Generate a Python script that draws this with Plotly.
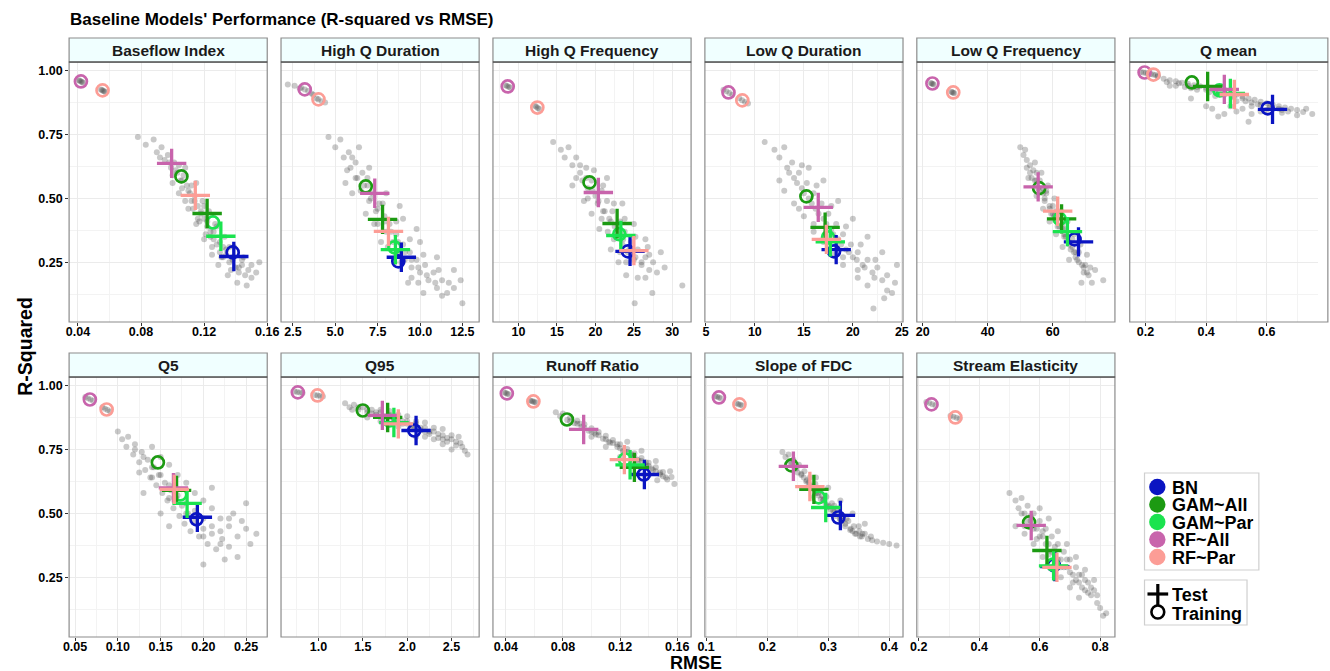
import plotly.graph_objects as go

W, H = 1330, 671

PANELS = ["Baseflow Index", "High Q Duration", "High Q Frequency", "Low Q Duration",
          "Low Q Frequency", "Q mean", "Q5", "Q95", "Runoff Ratio", "Slope of FDC",
          "Stream Elasticity"]

MODELS = ["BN", "GAM~All", "GAM~Par", "RF~All", "RF~Par"]
MODEL_COLORS = ["#0A14C2", "#1C9A12", "#1BE34F", "#C864AC", "#FC9D96"]

# values per model, across the 11 panels (RMSE, R-squared)
BN_TRAIN_RMSE = [0.1381, 8.72, 24.23, 18.08, 66.7, 0.603, 0.192, 2.08, 0.1366, 0.3167, 0.647]
BN_TRAIN_R2 = [0.289, 0.254, 0.293, 0.293, 0.34, 0.852, 0.477, 0.824, 0.652, 0.484, 0.297]
BN_TEST_RMSE = [0.1388, 8.90, 24.5, 18.3, 67.9, 0.619, 0.193, 2.10, 0.1370, 0.320, 0.650]
BN_TEST_R2 = [0.273, 0.270, 0.293, 0.300, 0.33, 0.848, 0.485, 0.824, 0.652, 0.492, 0.292]

GAM_ALL_TRAIN_RMSE = [0.1056, 6.80, 19.23, 15.26, 55.8, 0.353, 0.1468, 1.50, 0.0828, 0.2397, 0.565]
GAM_ALL_TRAIN_R2 = [0.586, 0.547, 0.5625, 0.508, 0.54, 0.953, 0.699, 0.902, 0.867, 0.6875, 0.465]
GAM_ALL_TEST_RMSE = [0.1219, 7.79, 22.82, 17.17, 62.7, 0.405, 0.1687, 1.78, 0.130, 0.2766, 0.624]
GAM_ALL_TEST_R2 = [0.441, 0.418, 0.402, 0.387, 0.42, 0.9375, 0.59, 0.875, 0.68, 0.594, 0.355]

GAM_PAR_TRAIN_RMSE = [0.1256, 8.49, 23.1, 17.47, 62.1, 0.444, 0.173, 1.80, 0.1234, 0.2846, 0.644]
GAM_PAR_TRAIN_R2 = [0.406, 0.309, 0.36, 0.348, 0.42, 0.922, 0.574, 0.863, 0.711, 0.5625, 0.30]
GAM_PAR_TEST_RMSE = [0.1306, 8.55, 23.3, 17.7, 64.5, 0.48, 0.181, 1.85, 0.127, 0.296, 0.646]
GAM_PAR_TEST_R2 = [0.352, 0.30, 0.355, 0.33, 0.37, 0.91, 0.539, 0.855, 0.69, 0.523, 0.295]

RF_ALL_TRAIN_RMSE = [0.0419, 3.20, 8.59, 7.31, 23.0, 0.197, 0.0673, 0.767, 0.0407, 0.121, 0.242]
RF_ALL_TRAIN_R2 = [0.957, 0.926, 0.9375, 0.914, 0.949, 0.992, 0.945, 0.973, 0.969, 0.953, 0.926]
RF_ALL_TEST_RMSE = [0.0994, 7.33, 20.38, 16.47, 55.5, 0.46, 0.165, 1.72, 0.0945, 0.243, 0.572]
RF_ALL_TEST_R2 = [0.637, 0.52, 0.523, 0.465, 0.545, 0.926, 0.60, 0.883, 0.828, 0.684, 0.453]

RF_PAR_TRAIN_RMSE = [0.0556, 4.01, 12.44, 8.72, 29.4, 0.226, 0.0869, 0.989, 0.0593, 0.1546, 0.321]
RF_PAR_TRAIN_R2 = [0.922, 0.887, 0.855, 0.883, 0.914, 0.984, 0.906, 0.961, 0.9375, 0.926, 0.875]
RF_PAR_TEST_RMSE = [0.1144, 8.14, 25.0, 17.3, 61.5, 0.493, 0.166, 1.90, 0.123, 0.270, 0.657]
RF_PAR_TEST_R2 = [0.512, 0.371, 0.296, 0.34, 0.45, 0.906, 0.594, 0.85, 0.71, 0.605, 0.289]

# bootstrap clouds (RMSE, R-squared)
CLOUD_BASEFLOW = [
    (0.078, 0.74), (0.083, 0.71), (0.088, 0.73), (0.090, 0.68), (0.093, 0.70), (0.095, 0.65),
    (0.097, 0.67), (0.099, 0.62), (0.101, 0.64), (0.100, 0.59), (0.103, 0.60), (0.105, 0.57),
    (0.107, 0.59), (0.106, 0.54), (0.109, 0.55), (0.111, 0.52), (0.112, 0.49), (0.114, 0.51),
    (0.113, 0.46), (0.116, 0.47), (0.118, 0.44), (0.117, 0.41), (0.120, 0.42), (0.122, 0.39),
    (0.121, 0.36), (0.124, 0.37), (0.126, 0.34), (0.125, 0.31), (0.128, 0.32), (0.130, 0.29),
    (0.132, 0.31), (0.131, 0.27), (0.134, 0.28), (0.136, 0.25), (0.138, 0.27), (0.137, 0.22),
    (0.140, 0.23), (0.142, 0.21), (0.144, 0.24), (0.146, 0.20), (0.148, 0.22), (0.150, 0.19),
    (0.153, 0.21), (0.155, 0.25), (0.141, 0.17), (0.147, 0.16), (0.108, 0.62), (0.115, 0.56),
    (0.119, 0.49), (0.123, 0.45), (0.127, 0.40), (0.133, 0.35), (0.139, 0.31), (0.145, 0.27),
    (0.104, 0.52), (0.110, 0.46), (0.115, 0.40), (0.120, 0.34), (0.125, 0.28), (0.129, 0.24),
    (0.135, 0.20), (0.098, 0.64), (0.102, 0.61), (0.106, 0.57), (0.110, 0.53), (0.114, 0.49),
    (0.118, 0.45), (0.122, 0.41), (0.126, 0.37), (0.130, 0.33), (0.134, 0.30), (0.138, 0.26),
    (0.142, 0.23), (0.104, 0.63), (0.112, 0.55), (0.120, 0.47), (0.128, 0.39), (0.136, 0.31),
    (0.144, 0.26), (0.100, 0.56), (0.108, 0.49), (0.116, 0.42), (0.124, 0.35), (0.132, 0.27),
    (0.150, 0.24), (0.092, 0.66),
    (0.0405, 0.962), (0.0412, 0.960), (0.0419, 0.957), (0.0426, 0.955),
    (0.0433, 0.952), (0.0545, 0.926), (0.0552, 0.924), (0.0559, 0.921), (0.0566, 0.919),
    (0.0573, 0.916)]

CLOUD_HIGHQDUR = [
    (4.6, 0.74), (5.0, 0.70), (5.3, 0.73), (5.5, 0.66), (5.8, 0.68), (5.9, 0.62), (6.2, 0.64),
    (6.3, 0.58), (6.6, 0.60), (6.5, 0.53), (6.9, 0.55), (7.0, 0.49), (7.2, 0.52), (7.4, 0.45),
    (7.6, 0.48), (7.5, 0.40), (7.9, 0.43), (8.0, 0.37), (8.2, 0.40), (8.4, 0.33), (8.6, 0.36),
    (8.7, 0.29), (9.0, 0.32), (9.1, 0.26), (9.4, 0.29), (9.5, 0.23), (9.8, 0.26), (10.0, 0.21),
    (10.3, 0.24), (10.5, 0.18), (10.8, 0.21), (11.0, 0.15), (11.3, 0.18), (11.6, 0.13),
    (12.0, 0.15), (12.5, 0.09), (10.2, 0.13), (11.3, 0.12), (9.3, 0.17), (6.0, 0.52),
    (6.8, 0.44), (7.7, 0.33), (8.5, 0.25), (9.5, 0.19), (7.0, 0.62), (8.0, 0.52), (9.0, 0.42),
    (10.0, 0.33), (11.0, 0.27), (12.0, 0.22), (12.4, 0.18), (8.8, 0.47), (9.8, 0.38),
    (6.4, 0.70), (5.6, 0.56), (6.2, 0.58), (6.7, 0.55), (7.1, 0.50), (7.5, 0.46), (7.9, 0.41),
    (8.3, 0.37), (8.7, 0.33), (9.1, 0.29), (9.5, 0.26), (9.9, 0.23), (10.4, 0.20), (10.9, 0.17),
    (6.0, 0.66), (6.9, 0.58), (7.8, 0.48), (8.6, 0.41), (9.4, 0.34), (10.2, 0.28), (11.1, 0.22),
    (5.7, 0.61), (7.3, 0.40), (8.1, 0.31), (8.9, 0.25), (9.9, 0.17), (11.7, 0.17),
    (2.2, 0.945), (2.6, 0.94), (3.0, 0.932), (3.2, 0.926),
    (3.4, 0.92), (3.7, 0.905), (3.9, 0.89), (4.0, 0.887), (4.2, 0.88), (4.4, 0.875),
    (2.9, 0.93), (3.6, 0.91)]

CLOUD_HIGHQFREQ = [
    (14.5, 0.72), (15.5, 0.69), (16.0, 0.66), (16.5, 0.70), (17.0, 0.63), (17.5, 0.66),
    (18.0, 0.60), (18.3, 0.57), (18.8, 0.62), (19.0, 0.54), (19.5, 0.57), (20.0, 0.51),
    (20.3, 0.48), (20.8, 0.53), (21.0, 0.45), (21.5, 0.49), (21.8, 0.42), (22.2, 0.45),
    (22.5, 0.39), (22.8, 0.35), (23.2, 0.41), (23.5, 0.32), (23.8, 0.37), (24.2, 0.29),
    (24.6, 0.33), (25.0, 0.26), (25.5, 0.30), (26.0, 0.24), (26.5, 0.27), (27.0, 0.22),
    (27.5, 0.25), (28.0, 0.21), (29.0, 0.23), (31.3, 0.16), (27.4, 0.13), (25.1, 0.09),
    (24.0, 0.20), (25.5, 0.19), (26.5, 0.19), (22.0, 0.30), (23.0, 0.25), (20.5, 0.38),
    (19.5, 0.44), (18.5, 0.49), (21.5, 0.58), (23.5, 0.48), (25.0, 0.40), (26.5, 0.34),
    (28.5, 0.29), (17.0, 0.55), (18.0, 0.63), (18.8, 0.58), (19.6, 0.53), (20.4, 0.49),
    (21.2, 0.45), (22.0, 0.41), (22.8, 0.37), (23.6, 0.34), (24.4, 0.30), (25.2, 0.27),
    (26.0, 0.25), (27.0, 0.28), (19.8, 0.61), (21.0, 0.55), (22.4, 0.48), (23.8, 0.42),
    (25.2, 0.35), (26.8, 0.31), (17.5, 0.58), (19.0, 0.50), (20.8, 0.42), (22.4, 0.34),
    (24.0, 0.25), (23.2, 0.29), (21.6, 0.37),
    (8.3, 0.942), (8.5, 0.939), (8.7, 0.936), (8.9, 0.933),
    (12.1, 0.862), (12.3, 0.858), (12.5, 0.853), (12.7, 0.849)]

CLOUD_LOWQDUR = [
    (11.0, 0.72), (12.0, 0.69), (12.5, 0.66), (13.0, 0.70), (13.3, 0.62), (13.8, 0.64),
    (14.0, 0.58), (14.5, 0.60), (14.8, 0.54), (15.3, 0.56), (15.5, 0.50), (16.0, 0.52),
    (16.2, 0.46), (16.8, 0.48), (17.0, 0.42), (17.5, 0.44), (17.8, 0.38), (18.3, 0.40),
    (18.5, 0.34), (19.0, 0.36), (19.3, 0.30), (19.8, 0.32), (20.0, 0.27), (20.5, 0.29),
    (21.0, 0.24), (21.5, 0.26), (22.0, 0.21), (22.5, 0.23), (23.0, 0.18), (23.5, 0.20),
    (24.3, 0.17), (22.1, 0.07), (23.2, 0.11), (24.0, 0.13), (20.5, 0.19), (21.5, 0.16),
    (19.0, 0.24), (18.0, 0.28), (17.0, 0.33), (16.0, 0.37), (15.0, 0.43), (14.0, 0.48),
    (13.0, 0.53), (15.5, 0.62), (17.0, 0.57), (18.5, 0.49), (20.0, 0.42), (21.5, 0.35),
    (23.0, 0.29), (24.5, 0.24), (13.5, 0.60), (14.3, 0.56), (15.0, 0.52), (15.8, 0.48),
    (16.5, 0.44), (17.3, 0.40), (18.0, 0.36), (18.8, 0.32), (19.6, 0.29), (20.4, 0.26),
    (21.2, 0.23), (22.2, 0.19), (14.8, 0.63), (16.3, 0.55), (17.8, 0.47), (19.3, 0.39),
    (20.8, 0.32), (22.3, 0.26), (12.5, 0.57), (14.5, 0.46), (16.0, 0.40), (17.5, 0.33),
    (19.0, 0.27), (20.5, 0.22), (23.5, 0.14),
    (6.8, 0.925), (7.1, 0.919), (7.4, 0.912), (7.7, 0.905),
    (8.4, 0.891), (8.7, 0.884), (9.0, 0.877), (9.3, 0.871)]

CLOUD_LOWQFREQ = [
    (50.0, 0.70), (51.0, 0.67), (52.0, 0.65), (53.0, 0.63), (53.5, 0.58), (54.0, 0.61),
    (55.0, 0.57), (55.5, 0.54), (56.0, 0.57), (57.0, 0.52), (57.5, 0.49), (58.0, 0.52),
    (59.0, 0.47), (59.5, 0.44), (60.0, 0.47), (61.0, 0.42), (61.5, 0.39), (62.0, 0.43),
    (63.0, 0.38), (63.5, 0.35), (64.0, 0.38), (65.0, 0.33), (65.5, 0.30), (66.0, 0.34),
    (67.0, 0.29), (67.5, 0.26), (68.0, 0.29), (69.0, 0.24), (69.5, 0.21), (70.0, 0.24),
    (71.0, 0.20), (72.0, 0.17), (68.8, 0.17), (75.5, 0.18), (73.0, 0.22), (54.5, 0.64),
    (56.5, 0.60), (58.5, 0.55), (60.5, 0.50), (62.5, 0.45), (64.5, 0.41), (66.5, 0.36),
    (68.5, 0.32), (70.5, 0.28), (52.5, 0.58), (55.0, 0.51), (57.0, 0.46), (59.0, 0.41),
    (61.0, 0.36), (63.0, 0.31), (65.0, 0.26), (53.0, 0.60), (54.5, 0.57), (56.0, 0.53),
    (57.5, 0.50), (59.0, 0.46), (60.5, 0.43), (62.0, 0.39), (63.5, 0.36), (65.0, 0.32),
    (66.5, 0.29), (68.0, 0.25), (69.5, 0.23), (55.0, 0.60), (58.0, 0.53), (61.0, 0.45),
    (64.0, 0.35), (67.0, 0.27), (52.0, 0.62), (57.0, 0.54), (60.0, 0.44), (63.0, 0.40),
    (66.0, 0.31), (70.5, 0.21), (71.5, 0.23), (51.5, 0.69),
    (22.5, 0.951), (22.8, 0.949), (23.1, 0.947),
    (23.4, 0.945), (28.8, 0.917), (29.1, 0.915), (29.4, 0.913), (29.7, 0.911)]

CLOUD_QMEAN = [
    (0.24, 0.975), (0.26, 0.968), (0.28, 0.962), (0.30, 0.958), (0.30, 0.94), (0.32, 0.952),
    (0.33, 0.935), (0.34, 0.948), (0.36, 0.942), (0.37, 0.925), (0.38, 0.938), (0.40, 0.932),
    (0.41, 0.915), (0.42, 0.928), (0.44, 0.92), (0.45, 0.905), (0.46, 0.915), (0.48, 0.91),
    (0.49, 0.895), (0.50, 0.905), (0.52, 0.898), (0.53, 0.88), (0.54, 0.89), (0.56, 0.885),
    (0.57, 0.868), (0.58, 0.878), (0.60, 0.872), (0.61, 0.855), (0.62, 0.865), (0.64, 0.86),
    (0.65, 0.845), (0.66, 0.855), (0.68, 0.85), (0.70, 0.845), (0.72, 0.838), (0.75, 0.83),
    (0.70, 0.825), (0.46, 0.83), (0.44, 0.82), (0.50, 0.84), (0.40, 0.86), (0.35, 0.89),
    (0.55, 0.83), (0.42, 0.85), (0.28, 0.94), (0.54, 0.80), (0.31, 0.95), (0.34, 0.94),
    (0.37, 0.935), (0.40, 0.925), (0.43, 0.915), (0.46, 0.905), (0.49, 0.90), (0.52, 0.89),
    (0.55, 0.875), (0.58, 0.865), (0.61, 0.862), (0.64, 0.85), (0.67, 0.84), (0.35, 0.93),
    (0.45, 0.93), (0.50, 0.88), (0.55, 0.86), (0.60, 0.845), (0.65, 0.835), (0.48, 0.86),
    (0.52, 0.85), (0.58, 0.84), (0.27, 0.955), (0.43, 0.90), (0.73, 0.85),
    (0.185, 0.994), (0.193, 0.992),
    (0.201, 0.99), (0.209, 0.988), (0.217, 0.986), (0.225, 0.984), (0.233, 0.982),
    (0.241, 0.98)]

CLOUD_Q5 = [
    (0.100, 0.82), (0.105, 0.79), (0.110, 0.76), (0.112, 0.80), (0.118, 0.73), (0.120, 0.77),
    (0.125, 0.70), (0.128, 0.74), (0.132, 0.67), (0.135, 0.71), (0.138, 0.64), (0.142, 0.68),
    (0.145, 0.61), (0.148, 0.65), (0.152, 0.58), (0.155, 0.62), (0.158, 0.55), (0.162, 0.59),
    (0.165, 0.52), (0.168, 0.56), (0.172, 0.49), (0.175, 0.53), (0.178, 0.46), (0.182, 0.50),
    (0.185, 0.43), (0.190, 0.47), (0.195, 0.41), (0.200, 0.44), (0.205, 0.38), (0.210, 0.42),
    (0.215, 0.36), (0.222, 0.40), (0.230, 0.37), (0.240, 0.41), (0.250, 0.44), (0.262, 0.42),
    (0.240, 0.33), (0.225, 0.32), (0.200, 0.30), (0.150, 0.50), (0.160, 0.45), (0.130, 0.58),
    (0.180, 0.62), (0.200, 0.55), (0.220, 0.48), (0.235, 0.50), (0.160, 0.69), (0.140, 0.76),
    (0.210, 0.60), (0.250, 0.54), (0.12, 0.75), (0.13, 0.72), (0.14, 0.68), (0.15, 0.65),
    (0.16, 0.61), (0.17, 0.57), (0.18, 0.54), (0.19, 0.51), (0.20, 0.48), (0.21, 0.45),
    (0.22, 0.43), (0.23, 0.45), (0.14, 0.64), (0.16, 0.56), (0.18, 0.50), (0.20, 0.41),
    (0.22, 0.38), (0.15, 0.72), (0.17, 0.65), (0.19, 0.58), (0.21, 0.52), (0.23, 0.48),
    (0.245, 0.47), (0.125, 0.66), (0.255, 0.38),
    (0.062, 0.955), (0.065, 0.95), (0.068, 0.945),
    (0.071, 0.94), (0.082, 0.915), (0.085, 0.909), (0.088, 0.904), (0.091, 0.898)]

CLOUD_Q95 = [
    (1.30, 0.93), (1.35, 0.915), (1.40, 0.925), (1.45, 0.905), (1.50, 0.915), (1.55, 0.895),
    (1.60, 0.905), (1.65, 0.885), (1.70, 0.895), (1.75, 0.872), (1.80, 0.885), (1.85, 0.862),
    (1.90, 0.872), (1.95, 0.85), (2.00, 0.86), (2.05, 0.838), (2.10, 0.85), (2.15, 0.825),
    (2.20, 0.835), (2.25, 0.81), (2.30, 0.82), (2.35, 0.795), (2.40, 0.805), (2.45, 0.78),
    (2.50, 0.79), (2.55, 0.765), (2.60, 0.775), (2.65, 0.745), (2.50, 0.75), (2.40, 0.77),
    (2.30, 0.79), (2.20, 0.80), (1.90, 0.84), (1.70, 0.86), (1.55, 0.875), (1.80, 0.90),
    (2.00, 0.88), (2.20, 0.855), (2.40, 0.83), (2.58, 0.80), (2.68, 0.73), (2.10, 0.80),
    (1.45, 0.915), (1.55, 0.905), (1.65, 0.895), (1.75, 0.88), (1.85, 0.87), (1.95, 0.86),
    (2.05, 0.845), (2.15, 0.835), (2.25, 0.82), (2.35, 0.81), (2.45, 0.795), (2.55, 0.78),
    (1.60, 0.89), (1.80, 0.875), (2.00, 0.85), (2.20, 0.82), (2.40, 0.79), (1.70, 0.905),
    (1.90, 0.885), (2.10, 0.86), (2.30, 0.835), (2.50, 0.805), (2.62, 0.76), (1.38, 0.905),
    (2.08, 0.83),
    (0.73, 0.976), (0.76, 0.974), (0.79, 0.972), (0.82, 0.97), (0.96, 0.963), (0.99, 0.961),
    (1.02, 0.959), (1.05, 0.957)]

CLOUD_RUNOFF = [
    (0.075, 0.895), (0.078, 0.88), (0.080, 0.89), (0.083, 0.865), (0.085, 0.875),
    (0.088, 0.852), (0.090, 0.862), (0.093, 0.838), (0.095, 0.848), (0.098, 0.823),
    (0.100, 0.833), (0.103, 0.808), (0.105, 0.818), (0.108, 0.792), (0.110, 0.803),
    (0.113, 0.776), (0.115, 0.787), (0.118, 0.76), (0.120, 0.77), (0.123, 0.742),
    (0.125, 0.752), (0.128, 0.725), (0.130, 0.735), (0.133, 0.706), (0.135, 0.716),
    (0.138, 0.688), (0.140, 0.698), (0.143, 0.67), (0.145, 0.68), (0.148, 0.652),
    (0.150, 0.662), (0.153, 0.632), (0.156, 0.642), (0.158, 0.615), (0.146, 0.63),
    (0.140, 0.65), (0.130, 0.69), (0.120, 0.72), (0.110, 0.76), (0.100, 0.80), (0.125, 0.78),
    (0.135, 0.745), (0.145, 0.705), (0.155, 0.665), (0.085, 0.86), (0.090, 0.85),
    (0.095, 0.835), (0.100, 0.82), (0.105, 0.805), (0.110, 0.79), (0.115, 0.775),
    (0.120, 0.755), (0.125, 0.74), (0.130, 0.72), (0.135, 0.705), (0.140, 0.685),
    (0.145, 0.665), (0.150, 0.645), (0.092, 0.85), (0.102, 0.815), (0.112, 0.78),
    (0.122, 0.745), (0.132, 0.71), (0.142, 0.675), (0.152, 0.64), (0.118, 0.77),
    (0.128, 0.73), (0.138, 0.70), (0.148, 0.66),
    (0.039, 0.972), (0.040, 0.97),
    (0.041, 0.968), (0.042, 0.966), (0.057, 0.941), (0.058, 0.939), (0.059, 0.937),
    (0.060, 0.935), (0.061, 0.933)]

CLOUD_SLOPEFDC = [
    (0.225, 0.74), (0.230, 0.72), (0.235, 0.73), (0.238, 0.70), (0.243, 0.71), (0.247, 0.68),
    (0.252, 0.69), (0.256, 0.655), (0.261, 0.665), (0.265, 0.63), (0.270, 0.64),
    (0.274, 0.605), (0.279, 0.615), (0.283, 0.58), (0.288, 0.59), (0.292, 0.555),
    (0.297, 0.565), (0.301, 0.53), (0.306, 0.54), (0.310, 0.505), (0.315, 0.515),
    (0.319, 0.48), (0.324, 0.49), (0.328, 0.46), (0.333, 0.47), (0.337, 0.44), (0.342, 0.45),
    (0.346, 0.42), (0.351, 0.43), (0.355, 0.41), (0.360, 0.42), (0.365, 0.40), (0.372, 0.395),
    (0.380, 0.39), (0.390, 0.385), (0.400, 0.38), (0.412, 0.375), (0.370, 0.41),
    (0.350, 0.45), (0.250, 0.66), (0.270, 0.61), (0.290, 0.57), (0.310, 0.53), (0.330, 0.48),
    (0.280, 0.64), (0.300, 0.60), (0.320, 0.55), (0.340, 0.50), (0.360, 0.46),
    (0.240, 0.70), (0.248, 0.675), (0.256, 0.65), (0.264, 0.625), (0.272, 0.60),
    (0.280, 0.58), (0.288, 0.555), (0.296, 0.535), (0.304, 0.515), (0.312, 0.49),
    (0.320, 0.475), (0.328, 0.45), (0.336, 0.435), (0.344, 0.42), (0.352, 0.41),
    (0.260, 0.64), (0.276, 0.595), (0.292, 0.55), (0.308, 0.51), (0.324, 0.47),
    (0.340, 0.43), (0.356, 0.42), (0.268, 0.62), (0.284, 0.57), (0.300, 0.525),
    (0.115, 0.958), (0.118, 0.956), (0.121, 0.953), (0.124, 0.95), (0.150, 0.93),
    (0.153, 0.927), (0.156, 0.925), (0.159, 0.922)]

CLOUD_ELASTICITY = [
    (0.50, 0.58), (0.52, 0.55), (0.53, 0.52), (0.54, 0.56), (0.55, 0.50), (0.56, 0.53),
    (0.57, 0.47), (0.58, 0.50), (0.59, 0.44), (0.60, 0.47), (0.61, 0.41), (0.62, 0.44),
    (0.63, 0.38), (0.64, 0.41), (0.65, 0.35), (0.66, 0.38), (0.67, 0.32), (0.68, 0.35),
    (0.69, 0.29), (0.70, 0.32), (0.71, 0.26), (0.72, 0.29), (0.73, 0.23), (0.74, 0.26),
    (0.75, 0.20), (0.76, 0.23), (0.77, 0.18), (0.78, 0.20), (0.79, 0.15), (0.80, 0.13),
    (0.82, 0.11), (0.81, 0.10), (0.52, 0.45), (0.55, 0.42), (0.58, 0.38), (0.61, 0.33),
    (0.64, 0.29), (0.67, 0.25), (0.70, 0.21), (0.73, 0.17), (0.60, 0.52), (0.63, 0.48),
    (0.66, 0.43), (0.69, 0.38), (0.72, 0.33), (0.75, 0.28), (0.78, 0.24), (0.54, 0.50),
    (0.56, 0.47), (0.58, 0.44), (0.60, 0.41), (0.62, 0.38), (0.64, 0.35), (0.66, 0.32),
    (0.68, 0.29), (0.70, 0.27), (0.72, 0.24), (0.74, 0.21), (0.76, 0.19), (0.57, 0.49),
    (0.61, 0.43), (0.65, 0.37), (0.69, 0.32), (0.73, 0.26), (0.77, 0.21), (0.55, 0.45),
    (0.59, 0.40), (0.63, 0.34), (0.67, 0.29), (0.71, 0.23), (0.75, 0.24), (0.79, 0.18),
    (0.225, 0.935), (0.235, 0.931), (0.245, 0.927), (0.255, 0.923), (0.305, 0.882),
    (0.315, 0.878), (0.325, 0.874), (0.335, 0.87)]

CLOUDS = [CLOUD_BASEFLOW, CLOUD_HIGHQDUR, CLOUD_HIGHQFREQ, CLOUD_LOWQDUR, CLOUD_LOWQFREQ,
          CLOUD_QMEAN, CLOUD_Q5, CLOUD_Q95, CLOUD_RUNOFF, CLOUD_SLOPEFDC, CLOUD_ELASTICITY]

# x tick labels per panel
X_TICKS = [["0.04", "0.08", "0.12", "0.16"],
           ["2.5", "5.0", "7.5", "10.0", "12.5"],
           ["10", "15", "20", "25", "30"],
           ["5", "10", "15", "20", "25"],
           ["20", "40", "60"],
           ["0.2", "0.4", "0.6"],
           ["0.05", "0.10", "0.15", "0.20", "0.25"],
           ["1.0", "1.5", "2.0", "2.5"],
           ["0.04", "0.08", "0.12", "0.16"],
           ["0.1", "0.2", "0.3", "0.4"],
           ["0.2", "0.4", "0.6", "0.8"]]
Y_TICKS = ["0.25", "0.50", "0.75", "1.00"]

TRAIN_RMSE = [BN_TRAIN_RMSE, GAM_ALL_TRAIN_RMSE, GAM_PAR_TRAIN_RMSE, RF_ALL_TRAIN_RMSE, RF_PAR_TRAIN_RMSE]
TRAIN_R2 = [BN_TRAIN_R2, GAM_ALL_TRAIN_R2, GAM_PAR_TRAIN_R2, RF_ALL_TRAIN_R2, RF_PAR_TRAIN_R2]
TEST_RMSE = [BN_TEST_RMSE, GAM_ALL_TEST_RMSE, GAM_PAR_TEST_RMSE, RF_ALL_TEST_RMSE, RF_PAR_TEST_RMSE]
TEST_R2 = [BN_TEST_R2, GAM_ALL_TEST_R2, GAM_PAR_TEST_R2, RF_ALL_TEST_R2, RF_PAR_TEST_R2]

# ---------------- layout geometry (pixels) ----------------
COL_LEFT = [63, 278, 493, 708, 923, 1139]
PW = 201
ROW_TOP = [62, 377]
PH = 260
STRIP_H = 24
X_RANGES = [[0.0344, 0.16], [1.80, 13.49], [6.67, 32.44], [4.9, 25.12], [18.2, 79.1],
            [0.148, 0.769], [0.043, 0.2747], [0.578, 2.811], [0.031, 0.1697],
            [0.098, 0.4226], [0.1935, 0.849]]
Y_RANGE = [0.017, 1.033]

FONT = "Liberation Sans, Arial, Helvetica, sans-serif"
GRID = "#EBEBEB"
MINOR_GRID = "#F3F3F3"
BORDER = "#8C8C8C"


def px(x):
    return x / W


def py(y):
    return 1 - y / H


fig = go.Figure()
shapes = []
annotations = []

for i, name in enumerate(PANELS):
    r, c = divmod(i, 6)
    n = i + 1
    xref = "x" if n == 1 else f"x{n}"
    yref = "y" if n == 1 else f"y{n}"
    x0 = COL_LEFT[c]
    x1 = x0 + PW
    y0 = ROW_TOP[r]
    y1 = y0 + PH

    ticktext = X_TICKS[i]
    tickvals = [float(t) for t in ticktext]
    step = tickvals[1] - tickvals[0]

    fig.layout[f"xaxis{'' if n == 1 else n}"] = dict(
        domain=[px(x0), min(px(x1), 1.0)], range=X_RANGES[i], anchor=yref,
        tickmode="array", tickvals=tickvals, ticktext=ticktext,
        ticks="outside", ticklen=3, tickcolor="#333333", tickwidth=1,
        ticklabelstandoff=-5,
        tickfont=dict(family=FONT, size=12.5, color="black", weight="bold"),
        showgrid=True, gridcolor=GRID, gridwidth=1, zeroline=False, showline=False,
        minor=dict(tick0=tickvals[0], dtick=step / 2, showgrid=True, gridcolor=MINOR_GRID,
                   gridwidth=0.8, ticks=""),
    )
    fig.layout[f"yaxis{'' if n == 1 else n}"] = dict(
        domain=[py(y1), py(y0)], range=Y_RANGE, anchor=xref,
        tickmode="array", tickvals=[float(t) for t in Y_TICKS], ticktext=Y_TICKS,
        ticks="outside" if c == 0 else "", ticklen=3, tickcolor="#333333",
        showticklabels=(c == 0),
        tickfont=dict(family=FONT, size=12.5, color="black", weight="bold"),
        showgrid=True, gridcolor=GRID, gridwidth=1, zeroline=False, showline=False,
        minor=dict(tick0=0, dtick=0.125, showgrid=True, gridcolor=MINOR_GRID,
                   gridwidth=0.8, ticks=""),
    )

    cloud = CLOUDS[i]
    fig.add_trace(go.Scatter(
        x=[p[0] for p in cloud], y=[p[1] for p in cloud], mode="markers",
        xaxis=xref, yaxis=yref, showlegend=False, hoverinfo="skip",
        marker=dict(size=6, color="rgba(60,60,60,0.28)", line=dict(width=0)),
    ))
    fig.add_trace(go.Scatter(
        x=[TRAIN_RMSE[m][i] for m in range(5)], y=[TRAIN_R2[m][i] for m in range(5)],
        mode="markers", xaxis=xref, yaxis=yref, showlegend=False,
        text=MODELS, hovertemplate="%{text} training<extra></extra>",
        marker=dict(symbol="circle-open", size=12, color=MODEL_COLORS,
                    line=dict(width=2.7, color=MODEL_COLORS)),
    ))
    fig.add_trace(go.Scatter(
        x=[TEST_RMSE[m][i] for m in range(5)], y=[TEST_R2[m][i] for m in range(5)],
        mode="markers", xaxis=xref, yaxis=yref, showlegend=False,
        text=MODELS, hovertemplate="%{text} test<extra></extra>",
        marker=dict(symbol="cross-thin", size=21, color=MODEL_COLORS,
                    line=dict(width=3.3, color=MODEL_COLORS)),
    ))

    # panel border
    shapes.append(dict(type="rect", xref="paper", yref="paper", x0=px(x0), x1=px(x1),
                       y0=py(y1), y1=py(y0), line=dict(color=BORDER, width=1.2),
                       fillcolor="rgba(0,0,0,0)", layer="above"))
    # strip
    shapes.append(dict(type="rect", xref="paper", yref="paper", x0=px(x0), x1=px(x1),
                       y0=py(y0), y1=py(y0 - STRIP_H), line=dict(color=BORDER, width=1.2),
                       fillcolor="#F0FFFF", layer="above"))
    shapes.append(dict(type="line", xref="paper", yref="paper", x0=px(x0), x1=px(x1),
                       y0=py(y0), y1=py(y0), line=dict(color="#333333", width=1.2),
                       layer="above"))
    annotations.append(dict(xref="paper", yref="paper", x=px((x0 + x1) / 2),
                            y=py(y0 - STRIP_H / 2), text=name, showarrow=False,
                            xanchor="center", yanchor="middle",
                            font=dict(family=FONT, size=15.5, color="#1A1A1A", weight="bold")))

# title and axis titles
annotations.append(dict(xref="paper", yref="paper", x=px(62), y=py(20),
                        text="Baseline Models' Performance (R-squared vs RMSE)",
                        showarrow=False, xanchor="left", yanchor="middle",
                        font=dict(family=FONT, size=17, color="black", weight="bold")))
annotations.append(dict(xref="paper", yref="paper", x=px(699), y=py(662), text="RMSE",
                        showarrow=False, xanchor="center", yanchor="middle", height=17,
                        font=dict(family=FONT, size=18, color="black", weight="bold")))
annotations.append(dict(xref="paper", yref="paper", x=px(18), y=py(346), text="R-Squared",
                        showarrow=False, xanchor="center", yanchor="middle", textangle=-90,
                        font=dict(family=FONT, size=19.5, color="black", weight="bold")))

# ---------------- manual legends ----------------
LEG_FONT = dict(family=FONT, size=18, color="black", weight="bold")
shapes.append(dict(type="rect", xref="paper", yref="paper", x0=px(1154), x1=px(1270),
                   y0=py(570), y1=py(473), line=dict(color="#CFCFCF", width=1.2),
                   fillcolor="white", layer="above"))
leg_y = [487, 504.5, 522, 539.5, 557]
for k, (lab, col) in enumerate(zip(MODELS, MODEL_COLORS)):
    cy = leg_y[k]
    shapes.append(dict(type="circle", xref="paper", yref="paper", x0=px(1167 - 8.3),
                       x1=px(1167 + 8.3), y0=py(cy + 8.3), y1=py(cy - 8.3),
                       fillcolor=col, line=dict(width=0, color=col), layer="above"))
    annotations.append(dict(xref="paper", yref="paper", x=px(1180), y=py(cy + 0.5), text=lab,
                            showarrow=False, xanchor="left", yanchor="middle", height=15.5,
                            font=LEG_FONT))

shapes.append(dict(type="rect", xref="paper", yref="paper", x0=px(1154), x1=px(1258),
                   y0=py(625), y1=py(580), line=dict(color="#CFCFCF", width=1.2),
                   fillcolor="white", layer="above"))
shapes.append(dict(type="line", xref="paper", yref="paper", x0=px(1157), x1=px(1178),
                   y0=py(594), y1=py(594), line=dict(color="black", width=3.2), layer="above"))
shapes.append(dict(type="line", xref="paper", yref="paper", x0=px(1167.5), x1=px(1167.5),
                   y0=py(584), y1=py(605), line=dict(color="black", width=3.2), layer="above"))
shapes.append(dict(type="circle", xref="paper", yref="paper", x0=px(1161), x1=px(1174),
                   y0=py(618.5), y1=py(605.5), line=dict(color="black", width=2.6),
                   fillcolor="rgba(0,0,0,0)", layer="above"))
annotations.append(dict(xref="paper", yref="paper", x=px(1180), y=py(595), text="Test",
                        showarrow=False, xanchor="left", yanchor="middle", height=16,
                        font=LEG_FONT))
annotations.append(dict(xref="paper", yref="paper", x=px(1180), y=py(612), text="Training",
                        showarrow=False, xanchor="left", yanchor="top", yshift=10,
                        font=LEG_FONT))

fig.update_layout(
    width=W, height=H, margin=dict(l=0, r=0, t=0, b=0),
    paper_bgcolor="white", plot_bgcolor="white", showlegend=False,
    shapes=shapes, annotations=annotations,
    font=dict(family=FONT),
)

fig.write_html("out.html", config={"displayModeBar": False},
               post_script="document.body.style.margin='0px';document.body.style.overflow='hidden';")
